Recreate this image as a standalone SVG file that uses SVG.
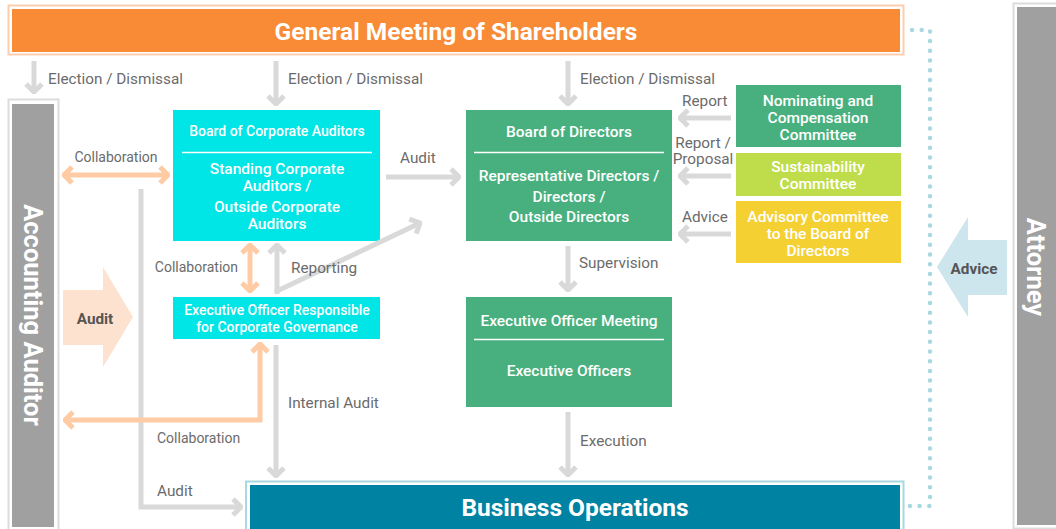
<svg xmlns="http://www.w3.org/2000/svg" width="1056" height="529" viewBox="0 0 1056 529">
<style>
.lbl{font-family:Roboto,"Liberation Sans",sans-serif;font-size:15.3px;fill:#6b6b6b}
.cl{font-size:14px}
.nt{font-family:Roboto,"Liberation Sans",sans-serif;font-size:15.5px;font-weight:500;fill:#fff;text-anchor:middle}
.ns{font-size:14px}
.big{font-family:Roboto,"Liberation Sans",sans-serif;font-size:24.5px;font-weight:700;fill:#fff;text-anchor:middle}
.side{font-family:Roboto,"Liberation Sans",sans-serif;font-size:25.5px;font-weight:700;fill:#fff;text-anchor:middle}
.ba{font-family:Roboto,"Liberation Sans",sans-serif;font-size:15.3px;font-weight:700;fill:#555;text-anchor:middle}
.g{fill:none;stroke:#d9d9d9;stroke-width:5}
.o{fill:none;stroke:#ffcba4;stroke-width:5}
.div{stroke:#fff;stroke-width:1.5}
</style>
<defs>
<marker id="ag" viewBox="-12 -11 14 22" markerWidth="14" markerHeight="22" refX="0" refY="0" markerUnits="userSpaceOnUse" orient="auto">
<path d="M-8,-8 L0,0 L-8,8" fill="none" stroke="#d9d9d9" stroke-width="5"/>
</marker>
<marker id="ao" viewBox="-12 -11 14 22" markerWidth="14" markerHeight="22" refX="0" refY="0" markerUnits="userSpaceOnUse" orient="auto">
<path d="M-8,-8 L0,0 L-8,8" fill="none" stroke="#ffcba4" stroke-width="5"/>
</marker>
<marker id="aos" viewBox="-12 -11 14 22" markerWidth="14" markerHeight="22" refX="0" refY="0" markerUnits="userSpaceOnUse" orient="auto-start-reverse">
<path d="M-8,-8 L0,0 L-8,8" fill="none" stroke="#ffcba4" stroke-width="5"/>
</marker>
</defs>
<rect width="1056" height="529" fill="#fff"/>

<g id="gms">
<rect x="8.5" y="5.5" width="895" height="49" fill="#fff" stroke="#fdcdb0" stroke-width="2"/>
<rect x="12" y="9" width="888" height="43" fill="#f98a36"/>
<text class="big" x="456" y="40">General Meeting of Shareholders</text>
</g>

<g id="accounting-auditor">
<rect x="8.5" y="99.5" width="50" height="432" fill="#fff" stroke="#dcdcdc" stroke-width="2"/>
<rect x="12" y="104" width="42" height="423" fill="#a0a0a0"/>
<text class="side" transform="translate(24,315) rotate(90)" x="0" y="0">Accounting Auditor</text>
</g>

<g id="attorney">
<rect x="1013.5" y="3.5" width="50" height="525" fill="#fff" stroke="#dcdcdc" stroke-width="2"/>
<rect x="1017" y="7" width="45" height="518" fill="#a0a0a0"/>
<text class="side" transform="translate(1027,267) rotate(90)" x="0" y="0">Attorney</text>
</g>

<g id="business-operations">
<rect x="246" y="481.5" width="657.5" height="50" fill="#fff" stroke="#a8d8e0" stroke-width="2"/>
<rect x="250" y="485" width="650" height="44" fill="#0082a2"/>
<text class="big" x="575" y="516">Business Operations</text>
</g>

<g id="board-of-corporate-auditors">
<rect x="173" y="110" width="207" height="131" fill="#00e5e5"/>
<text class="nt ns" x="277" y="136">Board of Corporate Auditors</text>
<line class="div" x1="182" y1="152.5" x2="372" y2="152.5"/>
<text class="nt" x="277" y="173.5">Standing Corporate</text>
<text class="nt" x="277" y="190.5">Auditors /</text>
<text class="nt" x="277" y="211.5">Outside Corporate</text>
<text class="nt" x="277" y="228.5">Auditors</text>
</g>

<g id="eo-governance">
<rect x="173" y="297" width="207" height="42" fill="#00e5e5"/>
<text class="nt ns" x="277" y="315">Executive Officer Responsible</text>
<text class="nt ns" x="277" y="332">for Corporate Governance</text>
</g>

<g id="board-of-directors">
<rect x="466" y="110" width="206" height="131" fill="#48b07e"/>
<text class="nt" x="569" y="136.5">Board of Directors</text>
<line class="div" x1="474" y1="152.5" x2="664" y2="152.5"/>
<text class="nt" x="569" y="180.5">Representative Directors /</text>
<text class="nt" x="569" y="201.5">Directors /</text>
<text class="nt" x="569" y="221.5">Outside Directors</text>
</g>

<g id="eo-meeting">
<rect x="466" y="297" width="206" height="110" fill="#48b07e"/>
<text class="nt" x="569" y="325.5">Executive Officer Meeting</text>
<line class="div" x1="474" y1="339.5" x2="664" y2="339.5"/>
<text class="nt" x="569" y="375.5">Executive Officers</text>
</g>

<g id="nominating">
<rect x="736" y="85" width="165" height="62" fill="#48b07e"/>
<text class="nt" x="818" y="105.5">Nominating and</text>
<text class="nt" x="818" y="122.5">Compensation</text>
<text class="nt" x="818" y="139.5">Committee</text>
</g>

<g id="sustainability">
<rect x="736" y="153" width="165" height="43" fill="#bfdc4b"/>
<text class="nt" x="818" y="171.5">Sustainability</text>
<text class="nt" x="818" y="188.5">Committee</text>
</g>

<g id="advisory">
<rect x="736" y="201" width="165" height="62" fill="#f4d033"/>
<text class="nt" x="818" y="221.5">Advisory Committee</text>
<text class="nt" x="818" y="238.5">to the Board of</text>
<text class="nt" x="818" y="255.5">Directors</text>
</g>

<g id="connectors">
<path d="M912,30 L930,30 L930,506 L909,506" fill="none" stroke="#a8d8e0" stroke-width="4.5" stroke-linecap="round" stroke-dasharray="0 9.7"/>
<polygon points="63,290 103,290 103,267 133,317 103,367 103,345 63,345" fill="#fde2cf"/>
<text class="ba" x="95" y="323.5">Audit</text>
<polygon points="1007,240 968,240 968,217 937,267 968,317 968,295 1007,295" fill="#cde5ec"/>
<text class="ba" x="974" y="273.5">Advice</text>

<line class="g" x1="34" y1="61" x2="34" y2="92" marker-end="url(#ag)"/>
<text class="lbl" x="48" y="83.5">Election / Dismissal</text>
<line class="g" x1="276" y1="61" x2="276" y2="104" marker-end="url(#ag)"/>
<text class="lbl" x="288" y="83.5">Election / Dismissal</text>
<line class="g" x1="568" y1="61" x2="568" y2="104" marker-end="url(#ag)"/>
<text class="lbl" x="580" y="83.5">Election / Dismissal</text>

<line class="g" x1="386" y1="177" x2="459" y2="177" marker-end="url(#ag)"/>
<text class="lbl" x="400" y="162.5">Audit</text>

<line class="g" x1="731" y1="118" x2="680" y2="118" marker-end="url(#ag)"/>
<text class="lbl" x="682" y="105.5">Report</text>
<line class="g" x1="731" y1="176" x2="680" y2="176" marker-end="url(#ag)"/>
<text class="lbl" x="703" y="147.5" text-anchor="middle">Report /</text>
<text class="lbl" x="703" y="163.5" text-anchor="middle">Proposal</text>
<line class="g" x1="731" y1="234" x2="680" y2="234" marker-end="url(#ag)"/>
<text class="lbl" x="682" y="221.5">Advice</text>

<line class="g" x1="568" y1="246" x2="568" y2="290" marker-end="url(#ag)"/>
<text class="lbl" x="579" y="267.5">Supervision</text>
<line class="g" x1="568" y1="412" x2="568" y2="475" marker-end="url(#ag)"/>
<text class="lbl" x="580" y="445.5">Execution</text>

<line class="g" x1="277" y1="294" x2="277" y2="245" marker-end="url(#ag)"/>
<line class="g" x1="275" y1="292" x2="420" y2="223" marker-end="url(#ag)"/>
<text class="lbl" x="291" y="272.5">Reporting</text>

<line class="g" x1="276" y1="345" x2="276" y2="476" marker-end="url(#ag)"/>
<text class="lbl" x="288" y="407.5">Internal Audit</text>

<polyline class="g" points="141,189 141,507 241,507" marker-end="url(#ag)"/>
<text class="lbl" x="157" y="495.5">Audit</text>

<line class="o" x1="64" y1="175" x2="168" y2="175" marker-start="url(#aos)" marker-end="url(#ao)"/>
<text class="lbl cl" x="116" y="162" text-anchor="middle">Collaboration</text>
<line class="o" x1="250" y1="245" x2="250" y2="291" marker-start="url(#aos)" marker-end="url(#ao)"/>
<text class="lbl cl" x="238" y="272" text-anchor="end">Collaboration</text>
<polyline class="o" points="260,344 260,420 65,420" marker-start="url(#aos)" marker-end="url(#ao)"/>
<text class="lbl cl" x="157" y="443">Collaboration</text>
</g>
</svg>
